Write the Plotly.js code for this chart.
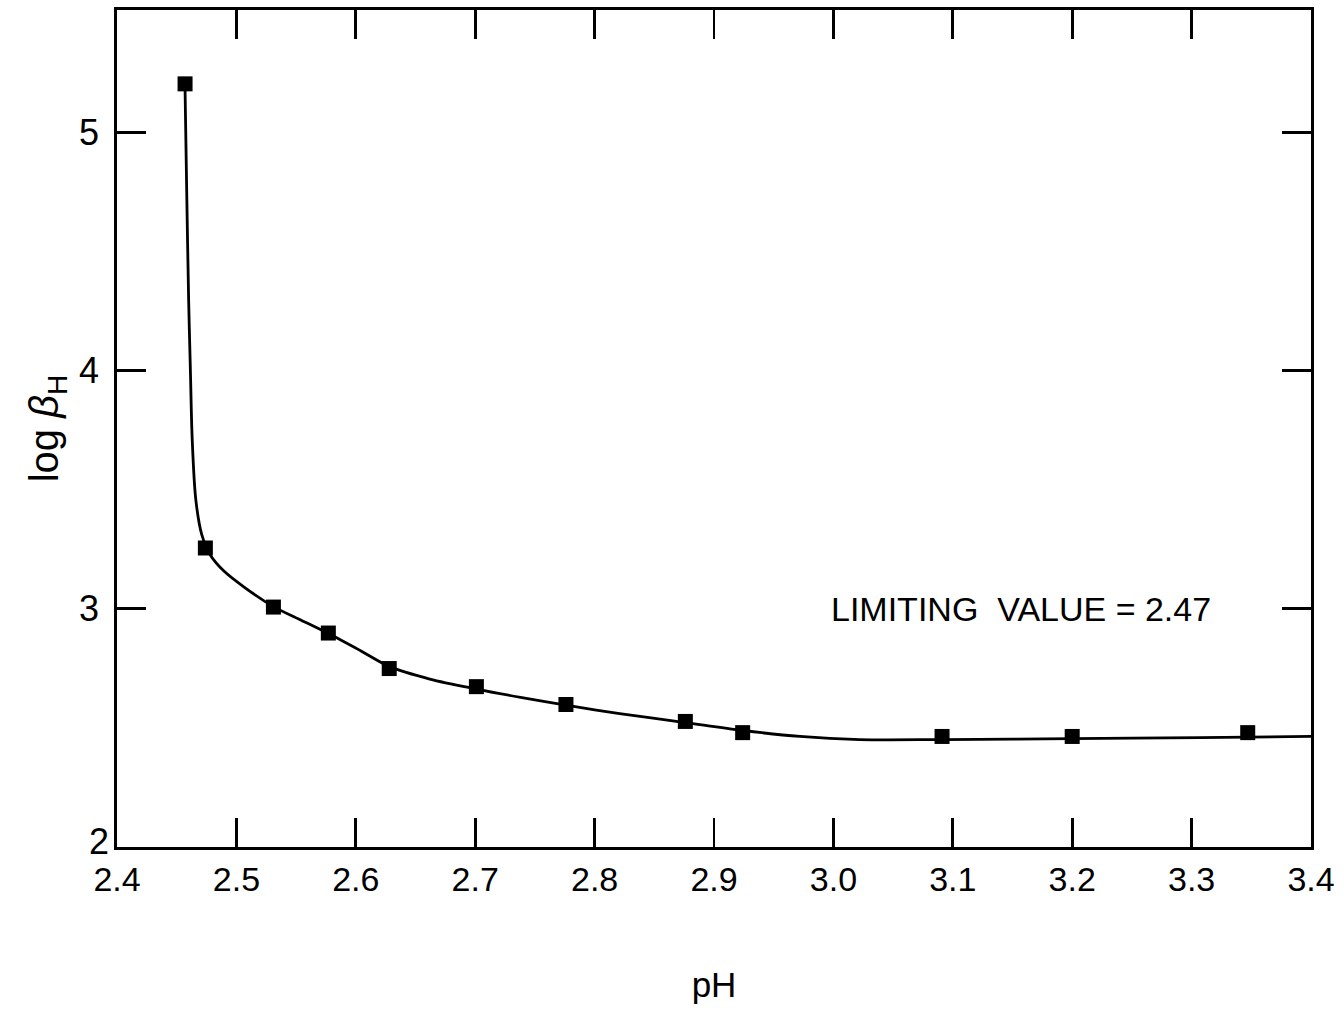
<!DOCTYPE html>
<html>
<head>
<meta charset="utf-8">
<script src="https://cdn.plot.ly/plotly-3.0.1.min.js"></script>
<style>
  html, body { margin: 0; padding: 0; background: #fff; }
  #chart { width: 1344px; height: 1012px; }
</style>
</head>
<body>
<div id="chart"></div>
<script>
// Measured data points (pH, log beta_H)
const pH = [2.457, 2.474, 2.531, 2.577, 2.628, 2.701, 2.776, 2.876, 2.924, 3.091, 3.200, 3.347];
const logBetaH = [5.203, 3.255, 3.007, 2.898, 2.749, 2.673, 2.598, 2.527, 2.480, 2.464, 2.464, 2.480];

// Hand-drawn fitted curve
const curvePH = [2.457, 2.4585, 2.460, 2.4615, 2.463, 2.466, 2.471, 2.478, 2.490, 2.507, 2.531, 2.553,
                 2.577, 2.604, 2.628, 2.662, 2.701, 2.738, 2.776, 2.821, 2.876, 2.924, 2.972, 3.022,
                 3.091, 3.200, 3.307, 3.400];
const curveLogBetaH = [5.178, 4.717, 4.297, 3.995, 3.710, 3.458, 3.311, 3.227, 3.156, 3.089, 3.009, 2.955,
                       2.896, 2.824, 2.758, 2.705, 2.663, 2.628, 2.595, 2.560, 2.522, 2.489, 2.464, 2.451,
                       2.451, 2.455, 2.459, 2.464];

const xTicks = [2.4, 2.5, 2.6, 2.7, 2.8, 2.9, 3.0, 3.1, 3.2, 3.3, 3.4];
const xTickLabels = ["2.4", "2.5", "2.6", "2.7", "2.8", "2.9", "3.0", "3.1", "3.2", "3.3", "3.4"];
const yTicks = [3, 4, 5];
const yTickLabels = ["3", "4", "5"];
const yBottomLabel = "2";

const annotationText = "LIMITING  VALUE = 2.47";
const annotationPos = {x: 3.157, y: 3.0};

const FONT = "Liberation Sans, Arial, sans-serif";

const traces = [
  {
    x: curvePH, y: curveLogBetaH,
    type: "scatter", mode: "lines",
    line: {color: "#000", width: 2.8, shape: "spline", smoothing: 0.9},
    hoverinfo: "skip", showlegend: false
  },
  {
    x: pH, y: logBetaH,
    type: "scatter", mode: "markers",
    marker: {symbol: "square", size: 15, color: "#000", line: {width: 0}},
    showlegend: false
  }
];

const layout = {
  width: 1344, height: 1012,
  paper_bgcolor: "#fff", plot_bgcolor: "#fff",
  margin: {l: 117, r: 33, t: 10, b: 164.5, pad: 0},
  showlegend: false,
  font: {family: FONT, color: "#000", size: 34},
  xaxis: {
    range: [2.4, 3.4],
    tickmode: "array", tickvals: xTicks, ticktext: xTickLabels,
    ticks: "inside", ticklen: 29, tickwidth: 2.8, tickcolor: "#000",
    showline: true, linewidth: 2.8, linecolor: "#000", mirror: "ticks",
    showgrid: false, zeroline: false,
    tickfont: {family: FONT, size: 34, color: "#000"},
    ticklabelstandoff: 0,
    title: {text: "pH", font: {family: FONT, size: 35, color: "#000"}, standoff: 76},
    automargin: false
  },
  yaxis: {
    range: [2, 5.513],
    tickmode: "array", tickvals: yTicks, ticktext: yTickLabels,
    ticks: "inside", ticklen: 29, tickwidth: 2.8, tickcolor: "#000",
    showline: true, linewidth: 2.8, linecolor: "#000", mirror: "ticks",
    showgrid: false, zeroline: false,
    tickfont: {family: FONT, size: 36, color: "#000"},
    ticklabelstandoff: 8,
    title: {text: "log <i>β</i><sub>H</sub>", font: {family: FONT, size: 40, color: "#000"}, standoff: 8},
    automargin: false
  },
  annotations: [
    {
      x: annotationPos.x, y: annotationPos.y, xref: "x", yref: "y",
      text: annotationText, showarrow: false,
      font: {family: FONT, size: 34, color: "#000"},
      xanchor: "center", yanchor: "middle"
    },
    {
      x: 0, y: 2, xref: "paper", yref: "y",
      text: yBottomLabel, showarrow: false,
      font: {family: FONT, size: 36, color: "#000"},
      xanchor: "right", yanchor: "middle", xshift: -6, yshift: 6
    }
  ]
};

Plotly.newPlot("chart", traces, layout, {displayModeBar: false, staticPlot: true});
</script>
</body>
</html>
